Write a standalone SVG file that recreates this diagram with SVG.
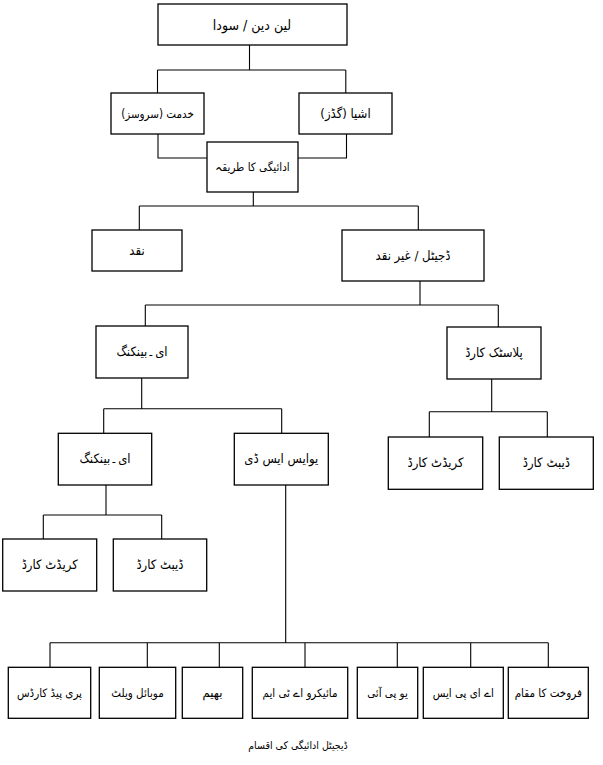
<svg xmlns="http://www.w3.org/2000/svg" width="603" height="765" viewBox="0 0 603 765">
<style>
.box{fill:#fff;stroke:#000;stroke-width:1.3}
.lbl{font-family:'DejaVu Sans Condensed','DejaVu Sans',sans-serif;font-size:13px;fill:#000;text-anchor:middle;direction:rtl}
.sm{font-size:11.5px}
.cap{font-family:'DejaVu Sans Condensed','DejaVu Sans',sans-serif;font-size:10.5px;fill:#000;text-anchor:middle;direction:rtl}
#connectors path{fill:none;stroke:#000;stroke-width:1.1}
</style>
<rect width="603" height="765" fill="#fff"/>
<g id="connectors">
<path d="M249.5 45V70M157.5 70H345.8M157.5 70V93M345.8 70V93"/>
<path d="M158 134V158H207M346.5 134V158H298"/>
<path d="M253.3 192V206M139.3 206H418.3M139.3 206V230M418.3 206V230"/>
<path d="M420 281V305M145.3 305H498.3M145.3 305V326M498.3 305V327"/>
<path d="M141.7 378V408.7M103.7 408.7H281.7M103.7 408.7V433.3M281.7 408.7V433.3"/>
<path d="M491.7 379V411.7M429.3 411.7H547.3M429.3 411.7V437M547.3 411.7V437"/>
<path d="M106 485V515M43.3 515H161.7M43.3 515V539M161.7 515V539"/>
<path d="M285.7 485V642.7M50 642.7H548.3M50 642.7V667.3M147.3 642.7V667.3M219.3 642.7V667.3M305 642.7V667.3M397.3 642.7V667.3M470.7 642.7V667.3M548.3 642.7V667.3"/>
</g>
<g id="n-lendeen"><rect class="box" x="158" y="4" width="189" height="41"/><text class="lbl" x="252" y="29.5" style="font-size:14px">لین دین / سودا</text></g>
<g id="n-khidmat"><rect class="box" x="111" y="93" width="93" height="41"/><text class="lbl sm" x="157.5" y="118">خدمت (سروسز)</text></g>
<g id="n-ashya"><rect class="box" x="299" y="93" width="93" height="41"/><text class="lbl" x="345.5" y="118">اشیا (گڈز)</text></g>
<g id="n-adaigi"><rect class="box" x="207" y="142" width="91" height="50"/><text class="lbl sm" x="252.5" y="171">ادائیگی کا طریقہ</text></g>
<g id="n-naqd"><rect class="box" x="92" y="230" width="90" height="41"/><text class="lbl" x="137" y="255">نقد</text></g>
<g id="n-digital"><rect class="box" x="342" y="230" width="142" height="51"/><text class="lbl" x="413" y="260">ڈجیٹل / غیر نقد</text></g>
<g id="n-ebanking1"><rect class="box" x="96" y="326" width="92" height="52"/><text class="lbl" x="142" y="356">ای۔بینکنگ</text></g>
<g id="n-plastic"><rect class="box" x="447" y="327" width="94" height="52"/><text class="lbl" x="494" y="357">پلاسٹک کارڈ</text></g>
<g id="n-ebanking2"><rect class="box" x="58.3" y="433.3" width="93.4" height="51.7"/><text class="lbl" x="105" y="463">ای۔بینکنگ</text></g>
<g id="n-ussd"><rect class="box" x="234.3" y="433.3" width="94" height="51.7"/><text class="lbl" x="281.3" y="463">یوایس ایس ڈی</text></g>
<g id="n-credit-r"><rect class="box" x="388.3" y="437" width="94.4" height="52.3"/><text class="lbl" x="435.5" y="467">کریڈٹ کارڈ</text></g>
<g id="n-debit-r"><rect class="box" x="499.3" y="437" width="94" height="52.3"/><text class="lbl" x="546.3" y="467">ڈیبٹ کارڈ</text></g>
<g id="n-credit-l"><rect class="box" x="2.7" y="539" width="94" height="52"/><text class="lbl" x="49.7" y="569">کریڈٹ کارڈ</text></g>
<g id="n-debit-l"><rect class="box" x="113.3" y="539" width="93.4" height="52"/><text class="lbl" x="160" y="569">ڈیبٹ کارڈ</text></g>
<g id="n-prepaid"><rect class="box" x="8.3" y="667.3" width="82.4" height="51"/><text class="lbl sm" x="49.5" y="697">پری پیڈ کارڈس</text></g>
<g id="n-wallet"><rect class="box" x="99.3" y="667.3" width="76.4" height="51"/><text class="lbl sm" x="137.5" y="697">موبائل ویلٹ</text></g>
<g id="n-bhim"><rect class="box" x="182.3" y="667.3" width="60.4" height="51"/><text class="lbl" x="212.5" y="697">بھیم</text></g>
<g id="n-microatm"><rect class="box" x="252.3" y="667.3" width="95.4" height="51"/><text class="lbl sm" x="300" y="697">مائیکرو اے ٹی ایم</text></g>
<g id="n-upi"><rect class="box" x="357.3" y="667.3" width="60.4" height="51"/><text class="lbl sm" x="387.5" y="697">یو پی آئی</text></g>
<g id="n-aeps"><rect class="box" x="423.3" y="667.3" width="80" height="51"/><text class="lbl sm" x="463.3" y="697">اے ای پی ایس</text></g>
<g id="n-pos"><rect class="box" x="508.3" y="667.3" width="80" height="51"/><text class="lbl sm" x="548.3" y="697">فروخت کا مقام</text></g>
<text class="cap" x="298" y="749">ڈیجیٹل ادائیگی کی اقسام</text>
</svg>
